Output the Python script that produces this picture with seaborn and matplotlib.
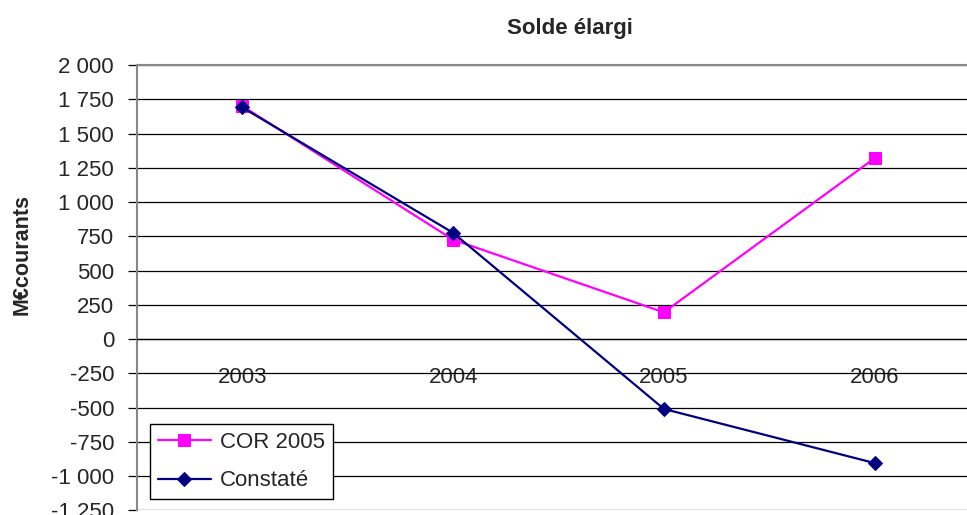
import matplotlib
matplotlib.use("Agg")
import matplotlib.pyplot as plt
import seaborn as sns
import pandas as pd
from matplotlib.ticker import FuncFormatter, FixedLocator

# data
years = ["2003", "2004", "2005", "2006"]
cor_2005 = [1700, 725, 195, 1320]
constate = [1690, 775, -510, -905]

sns.set_style("white")
plt.rcParams['font.family'] = ['Liberation Sans', 'DejaVu Sans']

df = pd.DataFrame({"year": years, "COR 2005": cor_2005, "Constaté": constate})

fig = plt.figure(figsize=(9.67, 5.15), dpi=100)
ax = fig.add_axes([0.1417, 0.009, 0.8718, 0.8648])

sns.lineplot(data=df, x="year", y="COR 2005", ax=ax, color="#FF00FF", marker="s",
             markersize=8, markeredgecolor="#FF00FF", linewidth=1.6, label="COR 2005")
sns.lineplot(data=df, x="year", y="Constaté", ax=ax, color="#000080", marker="D",
             markersize=7, markeredgecolor="#000080", linewidth=1.6, label="Constaté")

ax.set_ylim(-1250, 2000)
ax.set_xlim(-0.5, 3.5)
ax.set_yticks(range(-1250, 2001, 250))
ax.yaxis.set_major_formatter(FuncFormatter(lambda v, p: f"{int(v):,}".replace(",", " ")))
ax.yaxis.grid(True, color="black", linewidth=0.9)
ax.set_axisbelow(True)

# x axis sits on the zero line, ticks between categories
ax.spines['bottom'].set_position(('data', 0))
ax.spines['bottom'].set_color("black")
ax.spines['bottom'].set_linewidth(0.9)
ax.xaxis.set_minor_locator(FixedLocator([0.5, 1.5, 2.5]))
ax.tick_params(axis='x', which='major', length=0, pad=20, labelsize=16)
ax.tick_params(axis='x', which='minor', length=5, direction='out', color="#555555", width=1)
ax.tick_params(axis='y', length=6.5, width=0.9, color="black", direction='out',
               pad=10, labelsize=16, left=True)

for s in ['top', 'left', 'right']:
    ax.spines[s].set_color("#888888")
    ax.spines[s].set_linewidth(1.5)

ax.set_xlabel("")
ax.set_ylabel("M€courants", fontsize=15.5, fontweight="bold")
ax.yaxis.set_label_coords(-0.124, 0.574)
ax.set_title("Solde élargi", fontsize=16, fontweight="bold", x=0.514, pad=22)

leg = ax.legend(loc="lower left", bbox_to_anchor=(0.0154, 0.025), borderaxespad=0,
                fontsize=16, frameon=True, fancybox=False, edgecolor="black",
                framealpha=1, handlelength=2.4, borderpad=0.35, labelspacing=0.8,
                handletextpad=0.4)
leg.get_frame().set_linewidth(1.0)

fig.savefig("out.png", dpi=100)
